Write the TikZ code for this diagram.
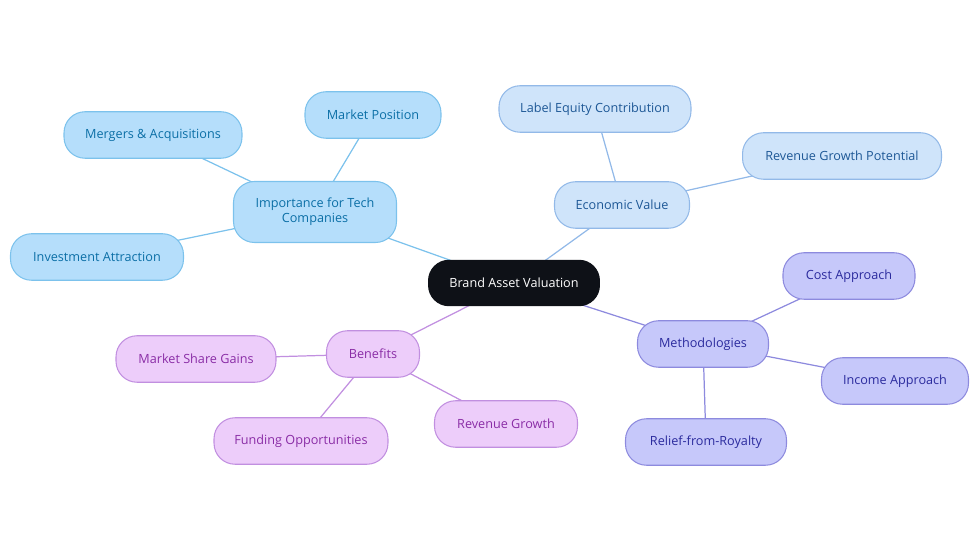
\documentclass[tikz,border=0pt]{standalone}
\usepackage{fontspec}
\setmainfont{Open Sans}
\usetikzlibrary{backgrounds}
\definecolor{rootfill}{HTML}{0E1117}
\definecolor{techfill}{HTML}{B5DEFB}
\definecolor{techline}{HTML}{7CC2EC}
\definecolor{techtext}{HTML}{0B6FA6}
\definecolor{econfill}{HTML}{CFE4FA}
\definecolor{econline}{HTML}{92B9E8}
\definecolor{econtext}{HTML}{1E5896}
\definecolor{methfill}{HTML}{C6C8FA}
\definecolor{methline}{HTML}{8D8ADE}
\definecolor{methtext}{HTML}{2B2B9E}
\definecolor{benefill}{HTML}{EDCDFA}
\definecolor{beneline}{HTML}{C18FE0}
\definecolor{benetext}{HTML}{8A2DA6}

\begin{document}
\begin{tikzpicture}[
    x=0.02cm, y=-0.02cm,
    pill/.style={draw=#1line, line width=0.6pt, rounded corners=0.42cm, fill=#1fill, text=#1text,
        minimum height=0.93cm, align=center, inner sep=2pt, font=\fontsize{7.2}{8.4}\selectfont},
    link/.style={line width=0.7pt, draw=#1line}
]
    \useasboundingbox (0,0) rectangle (980,553);

    % Center
    \node[draw=none, fill=rootfill, text=white, rounded corners=0.42cm, minimum height=0.93cm,
        minimum width=3.44cm, font=\fontsize{7.2}{8.4}\selectfont] (root) at (514,283) {Brand Asset Valuation};

    % Importance for tech companies
    \node[pill=tech, minimum width=3.26cm, minimum height=1.22cm] (tech) at (315,212) {Importance for Tech\\Companies};
    \node[pill=tech, minimum width=2.72cm] (market) at (373,115) {Market Position};
    \node[pill=tech, minimum width=3.56cm] (merge) at (153,135) {Mergers \& Acquisitions};
    \node[pill=tech, minimum width=3.46cm] (invest) at (97,257) {Investment Attraction};

    % Economic value
    \node[pill=econ, minimum width=2.70cm] (econ) at (622,205) {Economic Value};
    \node[pill=econ, minimum width=3.84cm] (label) at (595,109) {Label Equity Contribution};
    \node[pill=econ, minimum width=3.98cm] (revpot) at (842,156) {Revenue Growth Potential};

    % Methodologies
    \node[pill=meth, minimum width=2.62cm] (meth) at (703,344) {Methodologies};
    \node[pill=meth, minimum width=2.64cm] (cost) at (849,276) {Cost Approach};
    \node[pill=meth, minimum width=2.94cm] (income) at (895,381) {Income Approach};
    \node[pill=meth, minimum width=3.22cm] (relief) at (706,442) {Relief-from-Royalty};

    % Benefits
    \node[pill=bene, minimum width=1.86cm] (bene) at (373,354) {Benefits};
    \node[pill=bene, minimum width=3.20cm] (share) at (196,359) {Market Share Gains};
    \node[pill=bene, minimum width=3.48cm] (fund) at (301,441) {Funding Opportunities};
    \node[pill=bene, minimum width=2.86cm] (revgr) at (506,424) {Revenue Growth};

    % Links
    \begin{scope}[on background layer]
        \draw[link=tech] (root.center) -- (tech.center);
        \foreach \n in {market,merge,invest}
            \draw[link=tech] (tech.center) -- (\n.center);
        \draw[link=econ] (root.center) -- (econ.center);
        \foreach \n in {label,revpot}
            \draw[link=econ] (econ.center) -- (\n.center);
        \draw[link=meth] (root.center) -- (meth.center);
        \foreach \n in {cost,income,relief}
            \draw[link=meth] (meth.center) -- (\n.center);
        \draw[link=bene] (root.center) -- (bene.center);
        \foreach \n in {share,fund,revgr}
            \draw[link=bene] (bene.center) -- (\n.center);
    \end{scope}
\end{tikzpicture}
\end{document}
